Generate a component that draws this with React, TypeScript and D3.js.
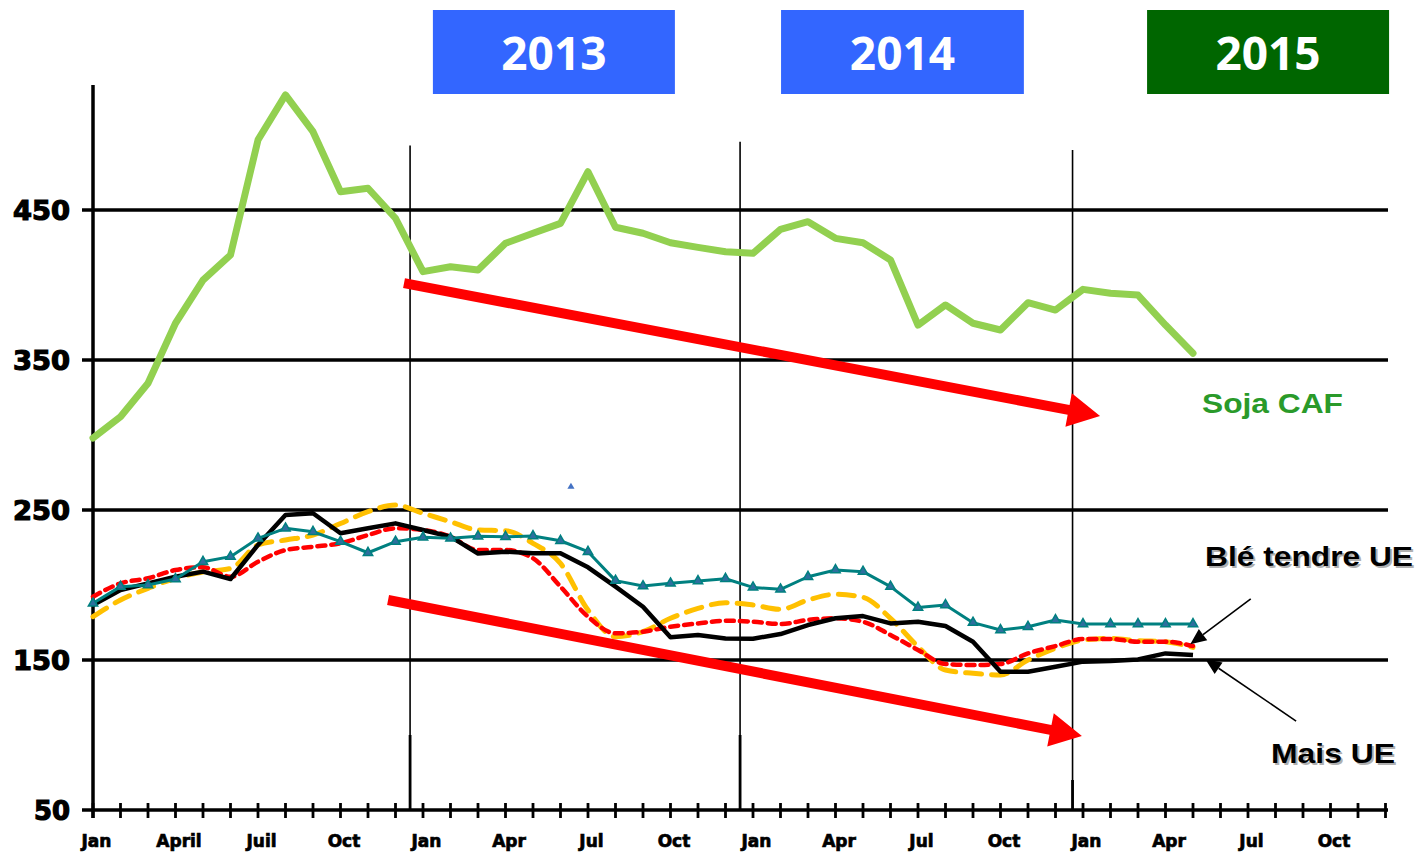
import React from "react";
import * as d3 from "d3";

const W = 1419;
const H = 852;

// month index 0 = Jan 2012 ... 47 = Dec 2015
const monthLabels = ["Jan", "April", "Juil", "Oct", "Jan", "Apr", "Jul", "Oct", "Jan", "Apr", "Jul", "Oct", "Jan", "Apr", "Jul", "Oct"];
const yTicks = [50, 150, 250, 350, 450];

const soja = [298, 312.2, 334.5, 374.5, 403.3, 420, 496.7, 526.7, 502.2, 462.2, 464.5, 444.5, 408.9, 412.2, 410, 427.8, 434.5, 441.1, 475.5, 438.5, 434.5, 428.2, 425.1, 422.2, 421.1, 437.1, 442.2, 431.1, 428.2, 416.7, 373.3, 386.7, 374.5, 370, 388.2, 383.3, 397.1, 394.5, 393.3, 373.3, 354.5];
const mais = [186.7, 196.7, 201.1, 205.5, 208.9, 204, 226.7, 246.7, 247.8, 234.5, 237.8, 241.1, 236.7, 232.2, 221, 222.2, 221.1, 221.1, 211.8, 198.9, 185.5, 165.1, 166.7, 164.4, 164.2, 167.3, 173.3, 177.8, 179.3, 174.4, 175.5, 172.7, 162.2, 142.2, 142.2, 145.5, 148.9, 149.3, 150.4, 154.4, 153.3];
const teal = [187.8, 198.9, 200, 204, 215.5, 218.9, 231.1, 237.8, 235.5, 228.9, 221.5, 228.9, 231.8, 231.1, 232.5, 232.2, 232.7, 229.5, 222.2, 202.9, 199.3, 201.1, 202.7, 204.2, 198.4, 197.1, 205.5, 210, 208.9, 198.9, 185, 186.7, 174.9, 170, 172.2, 176.7, 174, 174, 174, 174, 174];
const orange = [178.9, 190, 197.8, 204.5, 208.7, 211, 226.7, 230, 233.3, 241, 248.9, 253.3, 247.8, 242.2, 236.7, 236.2, 227.8, 214.4, 183.3, 165.5, 168.9, 177.8, 184.4, 188.2, 186.7, 183.8, 190, 193.8, 191.8, 177.8, 158.9, 143.3, 141.1, 140, 150, 157.8, 163.3, 164.4, 162.9, 162.2, 158.4];
const ble = [192.2, 201.1, 204.5, 210, 211.8, 205.5, 215.5, 223.3, 225.5, 227.8, 233.3, 237.8, 236.7, 232.2, 223.3, 223.3, 217.8, 198.9, 178.9, 167.8, 168.9, 172.2, 174.4, 176.2, 175.5, 174, 176.7, 177.8, 175.5, 166.7, 156.7, 147.3, 146.7, 147.3, 154.4, 159.3, 164, 164, 162.2, 162.2, 159.3];

const years = ["2013", "2014", "2015"];
const yearColors = ["#3366FF", "#3366FF", "#006600"];
const yearSpans = [[12.36, 21.16], [25.02, 33.85], [38.33, 47.13]];
const dividers = [[11.53, 493], [23.53, 495.5], [35.62, 490]];
const dividerStubBottom = [100, 100, 70];

// trend arrows: [month, value] start -> tip
const trendTop = [[11.31, 401.3], [36.62, 312.7]];
const trendBottom = [[10.73, 190], [35.96, 99.3]];
const calloutBle = [[42.1, 190.7], [39.9, 160.5]];
const calloutMais = [[43.75, 109.3], [40.45, 150.5]];
const strayMarker = [17.38, 265.5];

const x = d3.scaleLinear().domain([0, 47]).range([93, 1385.5]);
const y = d3.scaleLinear().domain([50, 550]).range([810, 60]);

function arrowPolygon(p0: number[], p1: number[], shaftW: number, headLen: number, headHalf: number) {
  const x0 = x(p0[0]), y0 = y(p0[1]), x1 = x(p1[0]), y1 = y(p1[1]);
  const dx = x1 - x0, dy = y1 - y0;
  const L = Math.hypot(dx, dy);
  const ux = dx / L, uy = dy / L;
  const nx = -uy, ny = ux;
  const bx = x1 - ux * headLen, by = y1 - uy * headLen;
  const pts = [
    [x0 + nx * shaftW / 2, y0 + ny * shaftW / 2],
    [bx + nx * shaftW / 2, by + ny * shaftW / 2],
    [bx + nx * headHalf, by + ny * headHalf],
    [x1, y1],
    [bx - nx * headHalf, by - ny * headHalf],
    [bx - nx * shaftW / 2, by - ny * shaftW / 2],
    [x0 - nx * shaftW / 2, y0 - ny * shaftW / 2],
  ];
  return pts.map((p) => p.join(",")).join(" ");
}

function Callout({ pts }: { pts: number[][] }) {
  const x0 = x(pts[0][0]), y0 = y(pts[0][1]), x1 = x(pts[1][0]), y1 = y(pts[1][1]);
  const dx = x1 - x0, dy = y1 - y0;
  const L = Math.hypot(dx, dy);
  const ux = dx / L, uy = dy / L;
  const bx = x1 - ux * 16, by = y1 - uy * 16;
  return (
    <g>
      <line x1={x0} y1={y0} x2={bx} y2={by} stroke="#000" strokeWidth={1.6} />
      <polygon points={arrowPolygon(pts[0], pts[1], 0, 16, 7)} fill="#000" />
    </g>
  );
}

export default function App() {
  const idx = (arr: number[]) => arr.map((v, i) => [i, v] as [number, number]);
  const lin = d3.line<[number, number]>().x((d) => x(d[0])).y((d) => y(d[1]));
  const smooth = d3.line<[number, number]>().x((d) => x(d[0])).y((d) => y(d[1])).curve(d3.curveMonotoneX);
  const tri = d3.symbol().type(d3.symbolTriangle).size(38)();
  const triSmall = d3.symbol().type(d3.symbolTriangle).size(22)();

  return (
    <svg width={W} height={H} style={{ position: "absolute", left: 0, top: 0, background: "#fff" }}>
      {/* year boxes */}
      {years.map((yr, i) => {
        const x0 = x(yearSpans[i][0]);
        const x1 = x(yearSpans[i][1]);
        return (
          <g key={yr}>
            <rect x={x0} y={10} width={x1 - x0} height={84} fill={yearColors[i]} />
            <text x={(x0 + x1) / 2} y={70} textAnchor="middle" fill="#fff" fontFamily="'Open Sans', sans-serif" fontWeight={700} fontSize={46}>
              {yr}
            </text>
          </g>
        );
      })}

      {/* gridlines */}
      {yTicks.map((t) => (
        <g key={t}>
          <line x1={82} x2={1388} y1={y(t)} y2={y(t)} stroke="#000" strokeWidth={3.5} />
          <text x={70} y={y(t) + 10} textAnchor="end" fontFamily="'DejaVu Sans', sans-serif" fontWeight={700} fontSize={26} stroke="#000" strokeWidth={1.2} textLength={t >= 100 ? 57 : 36} lengthAdjust="spacingAndGlyphs">
            {t}
          </text>
        </g>
      ))}

      {/* y axis */}
      <line x1={x(0)} x2={x(0)} y1={85} y2={818} stroke="#000" strokeWidth={3.5} />

      {/* x ticks */}
      {d3.range(48).map((m) => (
        <line key={m} x1={x(m)} x2={x(m)} y1={803} y2={818} stroke="#000" strokeWidth={2.8} />
      ))}
      {monthLabels.map((lab, i) => (
        <text key={i} x={x(i * 3) + 3.5} y={847} textAnchor="middle" fontFamily="'DejaVu Sans', sans-serif" fontWeight={700} fontSize={17} stroke="#000" strokeWidth={0.7}>
          {lab}
        </text>
      ))}

      {/* year dividers */}
      {dividers.map((d, i) => (
        <g key={i}>
          <line x1={x(d[0])} x2={x(d[0])} y1={y(d[1])} y2={y(50)} stroke="#000" strokeWidth={1.6} />
          <line x1={x(d[0])} x2={x(d[0])} y1={y(dividerStubBottom[i])} y2={y(50)} stroke="#000" strokeWidth={2.8} />
        </g>
      ))}

      {/* soja */}
      <path d={lin(idx(soja)) || ""} fill="none" stroke="#92D050" strokeWidth={7} strokeLinejoin="round" strokeLinecap="round" />

      {/* lower series */}
      <path d={smooth(idx(orange)) || ""} fill="none" stroke="#FFC000" strokeWidth={5} strokeDasharray="16 10" strokeLinecap="round" />
      <path d={smooth(idx(ble)) || ""} fill="none" stroke="#FF0000" strokeWidth={4.5} strokeDasharray="8 6" strokeLinecap="round" />
      <path d={lin(idx(mais)) || ""} fill="none" stroke="#000" strokeWidth={4.5} strokeLinejoin="round" />
      <path d={lin(idx(teal)) || ""} fill="none" stroke="#008080" strokeWidth={3} strokeLinejoin="round" />
      {teal.map((v, i) => (
        <path key={i} d={tri || ""} transform={`translate(${x(i)},${y(v)})`} fill="#2E6F9E" stroke="#008080" strokeWidth={1.5} />
      ))}
      <path d={triSmall || ""} transform={`translate(${x(strayMarker[0])},${y(strayMarker[1])})`} fill="#4472C4" />

      {/* trend arrows */}
      <polygon points={arrowPolygon(trendTop[0], trendTop[1], 10, 32, 17)} fill="#FF0000" />
      <polygon points={arrowPolygon(trendBottom[0], trendBottom[1], 10, 32, 17)} fill="#FF0000" />

      {/* callouts */}
      <Callout pts={calloutBle} />
      <Callout pts={calloutMais} />

      {/* labels */}
      <text x={1202} y={413} fill="#2A9A2A" fontFamily="'Liberation Sans', Arial, sans-serif" fontWeight={700} fontSize={28} textLength={141} lengthAdjust="spacingAndGlyphs">
        Soja CAF
      </text>
      <text x={1207} y={568} fill="#b0b0b0" fontFamily="'Liberation Sans', Arial, sans-serif" fontWeight={700} fontSize={28} textLength={208} lengthAdjust="spacingAndGlyphs">
        Blé tendre UE
      </text>
      <text x={1205} y={566} fill="#000" fontFamily="'Liberation Sans', Arial, sans-serif" fontWeight={700} fontSize={28} textLength={208} lengthAdjust="spacingAndGlyphs">
        Blé tendre UE
      </text>
      <text x={1273} y={765} fill="#b0b0b0" fontFamily="'Liberation Sans', Arial, sans-serif" fontWeight={700} fontSize={28} textLength={124} lengthAdjust="spacingAndGlyphs">
        Mais UE
      </text>
      <text x={1271} y={763} fill="#000" fontFamily="'Liberation Sans', Arial, sans-serif" fontWeight={700} fontSize={28} textLength={124} lengthAdjust="spacingAndGlyphs">
        Mais UE
      </text>
    </svg>
  );
}
